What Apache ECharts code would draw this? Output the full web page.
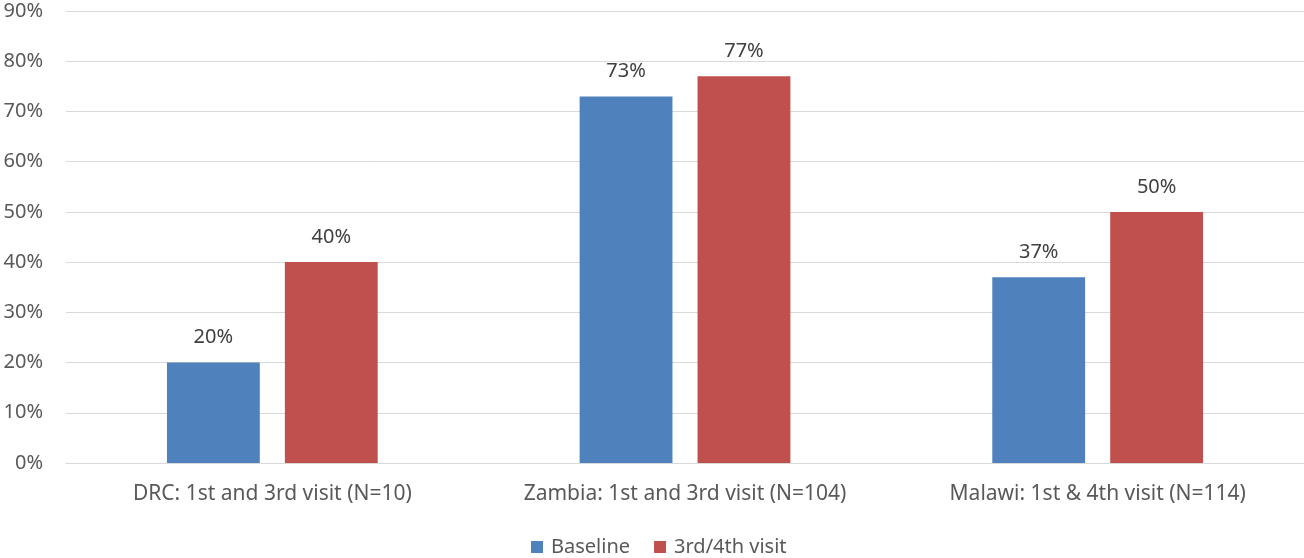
<!DOCTYPE html>
<html>
<head>
<meta charset="utf-8">
<script src="https://cdn.jsdelivr.net/npm/echarts@6/dist/echarts.min.js"></script>
<style>
  html, body { margin: 0; padding: 0; background: #fff; }
  #chart { width: 1304px; height: 558px; }
</style>
</head>
<body>
<div id="chart"></div>
<script>
// Share of participants, by country and visit
const categories = ['DRC: 1st and 3rd visit (N=10)', 'Zambia: 1st and 3rd visit (N=104)', 'Malawi: 1st & 4th visit (N=114)'];
const baseline = [20, 73, 37];
const laterVisit = [40, 77, 50];
const seriesNames = ['Baseline', '3rd/4th visit'];

const FONT = 'Noto Sans';
const chart = echarts.init(document.getElementById('chart'), null, { renderer: 'canvas' });

const labelStyle = {
  show: true,
  position: 'top',
  distance: 15,
  formatter: p => p.value + '%',
  color: '#404040',
  fontSize: 20,
  fontFamily: FONT
};

chart.setOption({
  animation: false,
  grid: { left: 66, right: 0, top: 11, bottom: 95, containLabel: false },
  legend: {
    top: 537,
    left: 531,
    padding: 0,
    itemWidth: 12,
    itemHeight: 12,
    itemGap: 24,
    icon: 'rect',
    textStyle: { color: '#595959', fontSize: 20, fontFamily: FONT, padding: [0, 0, 0, 3] },
    data: seriesNames
  },
  xAxis: {
    type: 'category',
    data: categories,
    axisLine: { show: true, lineStyle: { color: '#d9d9d9', width: 1 } },
    axisTick: { show: false },
    axisLabel: { color: '#595959', fontSize: 21, fontFamily: FONT, margin: 21, interval: 0, hideOverlap: false }
  },
  yAxis: {
    type: 'value',
    min: 0,
    max: 90,
    interval: 10,
    axisLine: { show: false },
    axisTick: { show: false },
    splitLine: { lineStyle: { color: '#d9d9d9', width: 1 } },
    axisLabel: { color: '#595959', fontSize: 20, fontFamily: FONT, margin: 23, formatter: v => v + '%' }
  },
  series: [
    {
      name: seriesNames[0],
      type: 'bar',
      data: baseline,
      barWidth: '22.5%',
      barGap: '27%',
      itemStyle: { color: '#4f81bd' },
      label: labelStyle
    },
    {
      name: seriesNames[1],
      type: 'bar',
      data: laterVisit,
      barWidth: '22.5%',
      itemStyle: { color: '#c0504d' },
      label: labelStyle
    }
  ]
});
</script>
</body>
</html>
